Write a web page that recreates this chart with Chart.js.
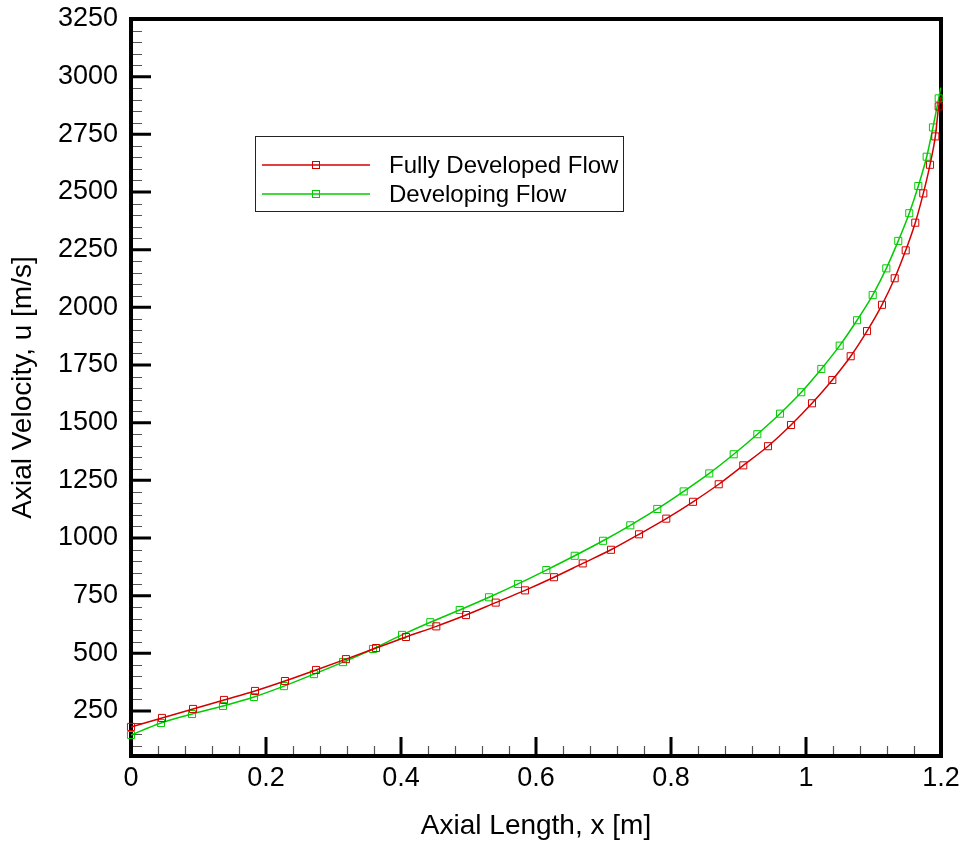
<!DOCTYPE html>
<html>
<head>
<meta charset="utf-8">
<title>Axial Velocity</title>
<script src="https://cdn.jsdelivr.net/npm/chart.js@4.4.1/dist/chart.umd.min.js"></script>
<style>
  html, body { margin: 0; padding: 0; background: #fff; }
  #wrap { width: 963px; height: 843px; }
</style>
</head>
<body>
<div id="wrap"><canvas id="chart" width="963" height="843"></canvas></div>
<script>
// values (marker positions + curve end at x = 1.2)
const fullyX = [0, 0.0459, 0.0919, 0.1378, 0.1837, 0.2281, 0.2741, 0.3185, 0.3630, 0.4074,
  0.4523, 0.4963, 0.5403, 0.5837, 0.6267, 0.6692, 0.7111, 0.7526, 0.7930, 0.8326,
  0.8707, 0.9071, 0.9437, 0.9778, 1.0089, 1.0390, 1.0662, 1.0904, 1.1126, 1.1314,
  1.1477, 1.1619, 1.1738, 1.1837, 1.1916, 1.1966, 1.2];
const fullyU = [181, 220, 259, 298, 337, 380, 428, 475, 523, 571,
  617, 666, 720, 773, 830, 890, 949, 1016, 1084, 1157,
  1233, 1315, 1398, 1490, 1584, 1685, 1788, 1897, 2011, 2126,
  2247, 2367, 2494, 2618, 2741, 2871, 2912];

const developingX = [0, 0.0444, 0.0904, 0.1363, 0.1822, 0.2267, 0.2711, 0.3141, 0.3585, 0.4015,
  0.4434, 0.4870, 0.5304, 0.5733, 0.6153, 0.6573, 0.6993, 0.7397, 0.7797, 0.8188,
  0.8567, 0.8929, 0.9279, 0.9615, 0.9930, 1.0227, 1.0499, 1.0756, 1.0988, 1.1190,
  1.1367, 1.1530, 1.1664, 1.1788, 1.1881, 1.1966, 1.1995];
const developingU = [146, 198, 237, 272, 311, 358, 410, 462, 519, 580,
  635, 688, 743, 801, 861, 923, 988, 1055, 1126, 1202,
  1280, 1363, 1450, 1539, 1632, 1733, 1834, 1944, 2053, 2169,
  2288, 2408, 2526, 2653, 2780, 2906, 2953];

const xTicks = [0, 0.2, 0.4, 0.6, 0.8, 1, 1.2];
const yTicks = [250, 500, 750, 1000, 1250, 1500, 1750, 2000, 2250, 2500, 2750, 3000, 3250];
const seriesNames = ['Fully Developed Flow', 'Developing Flow'];
const seriesColors = ['#d40000', '#00cc00'];

function toPoints(xs, ys) {
  return xs.map((x, i) => ({ x: x, y: ys[i] }));
}

// last point of each series is only the curve end, no symbol
function markerRadius(ctx) {
  return ctx.dataIndex === ctx.dataset.data.length - 1 ? 0 : 5;
}

const frameAndTicks = {
  id: 'frameAndTicks',
  beforeDatasetsDraw(chart) {
    const { ctx, chartArea: a, scales: { x, y } } = chart;
    ctx.save();
    // minor ticks
    ctx.strokeStyle = '#555';
    ctx.lineWidth = 1.2;
    ctx.beginPath();
    for (let v = 0.04; v < 1.2; v += 0.04) {
      if (Math.abs(v / 0.2 - Math.round(v / 0.2)) < 1e-6) continue;
      const px = Math.round(x.getPixelForValue(v)) + 0.5;
      ctx.moveTo(px, a.bottom);
      ctx.lineTo(px, a.bottom - 10);
    }
    for (let v = 100; v < 3250; v += 50) {
      if (v % 250 === 0) continue;
      const py = Math.round(y.getPixelForValue(v)) + 0.5;
      ctx.moveTo(a.left, py);
      ctx.lineTo(a.left + 11, py);
    }
    ctx.stroke();
    // major ticks
    ctx.strokeStyle = '#000';
    ctx.lineWidth = 3;
    ctx.beginPath();
    xTicks.forEach(v => {
      const px = x.getPixelForValue(v);
      ctx.moveTo(px, a.bottom);
      ctx.lineTo(px, a.bottom - 19);
    });
    yTicks.forEach(v => {
      const py = y.getPixelForValue(v);
      ctx.moveTo(a.left, py);
      ctx.lineTo(a.left + 20, py);
    });
    ctx.stroke();
    // frame
    ctx.lineWidth = 4;
    ctx.strokeRect(a.left, a.top, a.right - a.left, a.bottom - a.top);
    ctx.restore();
  }
};

const boxLegend = {
  id: 'boxLegend',
  afterDatasetsDraw(chart) {
    const { ctx, chartArea: a } = chart;
    const left = a.left + 124, top = a.top + 117;
    const w = 368, h = 75;
    ctx.save();
    ctx.fillStyle = '#fff';
    ctx.fillRect(left, top, w, h);
    ctx.strokeStyle = '#222';
    ctx.lineWidth = 1;
    ctx.strokeRect(left + 0.5, top + 0.5, w, h);
    ctx.font = '24px "Liberation Sans", Arial, sans-serif';
    ctx.textBaseline = 'middle';
    seriesNames.forEach((name, i) => {
      const cy = top + 29 + i * 29;
      ctx.strokeStyle = seriesColors[i];
      ctx.lineWidth = 1.5;
      ctx.beginPath();
      ctx.moveTo(left + 7, cy);
      ctx.lineTo(left + 115, cy);
      ctx.stroke();
      ctx.lineWidth = 1;
      ctx.strokeRect(left + 57.5, cy - 3.5, 7, 7);
      ctx.fillStyle = '#000';
      ctx.fillText(name, left + 134, cy + 1);
    });
    ctx.restore();
  }
};

const tickFont = { family: '"Liberation Sans", Arial, sans-serif', size: 27 };
const titleFont = { family: '"Liberation Sans", Arial, sans-serif', size: 28 };

new Chart(document.getElementById('chart'), {
  type: 'line',
  data: {
    datasets: [
      {
        label: seriesNames[0],
        data: toPoints(fullyX, fullyU),
        borderColor: seriesColors[0],
        borderWidth: 1.5,
        pointStyle: 'rect',
        pointRadius: markerRadius,
        pointBorderWidth: 1,
        pointBorderColor: seriesColors[0],
        pointBackgroundColor: 'rgba(0,0,0,0)',
        cubicInterpolationMode: 'monotone',
        clip: false
      },
      {
        label: seriesNames[1],
        data: toPoints(developingX, developingU),
        borderColor: seriesColors[1],
        borderWidth: 1.5,
        pointStyle: 'rect',
        pointRadius: markerRadius,
        pointBorderWidth: 1,
        pointBorderColor: seriesColors[1],
        pointBackgroundColor: 'rgba(0,0,0,0)',
        cubicInterpolationMode: 'monotone',
        clip: false
      }
    ]
  },
  options: {
    responsive: false,
    animation: false,
    layout: { padding: { top: 2, right: 2, left: 0, bottom: 0 } },
    plugins: { legend: { display: false }, tooltip: { enabled: false } },
    scales: {
      x: {
        type: 'linear',
        min: 0,
        max: 1.2,
        afterBuildTicks: s => { s.ticks = xTicks.map(v => ({ value: v })); },
        afterFit: s => { s.height = 87; s.paddingRight = 22; },
        grid: { display: false, drawTicks: false },
        border: { display: false },
        ticks: { color: '#000', font: tickFont, padding: 6, maxRotation: 0, callback: v => String(v) },
        title: { display: true, text: 'Axial Length, x [m]', color: '#000', font: titleFont, padding: { top: 0, bottom: 0 } }
      },
      y: {
        type: 'linear',
        min: 55,
        max: 3250,
        afterBuildTicks: s => { s.ticks = yTicks.map(v => ({ value: v })); },
        afterFit: s => { s.width = 131; s.paddingTop = 19; },
        grid: { display: false, drawTicks: false },
        border: { display: false },
        ticks: { color: '#000', font: tickFont, padding: 13, callback: v => String(v) },
        title: { display: true, text: 'Axial Velocity, u [m/s]', color: '#000', font: titleFont, padding: { top: 6, bottom: 0 } }
      }
    }
  },
  plugins: [frameAndTicks, boxLegend]
});
</script>
</body>
</html>
